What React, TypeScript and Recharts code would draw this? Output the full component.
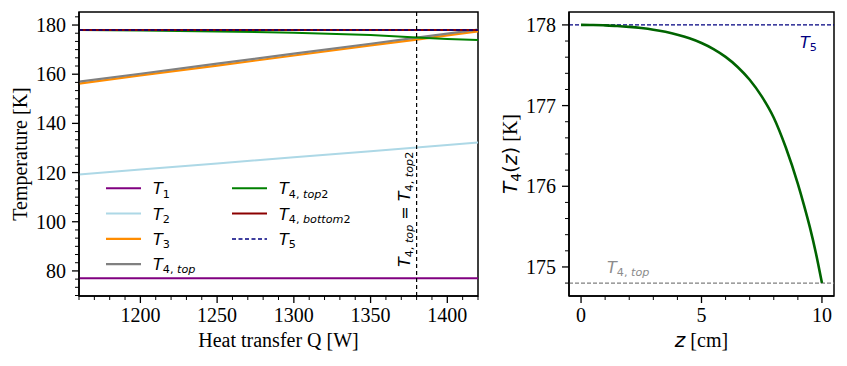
import React from 'react';
import {
  LineChart,
  Line,
  XAxis,
  YAxis,
  ReferenceLine,
  ReferenceArea,
  Legend
} from 'recharts';

const SERIF = '"Liberation Serif", "Times New Roman", serif';
const MATH = '"DejaVu Sans", sans-serif';

// ---- left panel: temperatures vs heat transfer ----
const qValues = [1160, 1200, 1250, 1300, 1350, 1380, 1400, 1420];
const t1Values = [77, 77, 77, 77, 77, 77, 77, 77];
const t2Values = [119.2, 121.2, 123.7, 126.2, 128.7, 130.2, 131.2, 132.2];
const t3Values = [156.2, 159.5, 163.5, 167.6, 171.7, 174.1, 175.8, 177.4];
const t4TopValues = [157.0, 160.2, 164.3, 168.4, 172.4, 174.9, 176.5, 178.1];
const t4Top2Values = [178.0, 177.8, 177.4, 176.9, 175.9, 174.9, 174.35, 173.9];
const t4Bottom2Values = [178, 178, 178, 178, 178, 178, 178, 178];
const t5Values = [178, 178, 178, 178, 178, 178, 178, 178];

const qMajorTicks = [1200, 1250, 1300, 1350, 1400];
const tempMajorTicks = [80, 100, 120, 140, 160, 180];
const qDomain: [number, number] = [1160, 1420];
const tempDomain: [number, number] = [69.8, 185.3];
const equalQ = 1380;

// ---- right panel: T4 along z ----
const zValues = [0, 0.5, 1, 1.5, 2, 2.5, 3, 3.5, 4, 4.5, 5, 5.5, 6, 6.5, 7, 7.5, 8, 8.5, 9, 9.25, 9.5, 9.75, 10];
const t4zValues = [
  178.0, 177.999, 177.994, 177.987, 177.976, 177.961, 177.941, 177.914, 177.879, 177.834,
  177.776, 177.701, 177.604, 177.479, 177.32, 177.114, 176.85, 176.48, 176.03, 175.77, 175.49, 175.17, 174.8
];
const zMajorTicks = [0, 5, 10];
const t4MajorTicks = [175, 176, 177, 178];
const zDomain: [number, number] = [-0.5, 10.5];
const t4Domain: [number, number] = [174.64, 178.16];
const t5Level = 178;
const t4TopLevel = 174.8;

const steps = (from: number, to: number, step: number) => {
  const out: number[] = [];
  for (let i = 0; from + i * step <= to + 1e-9; i++) out.push(+(from + i * step).toFixed(4));
  return out;
};

const qTicks = steps(1160, 1420, 10);
const tempTicks = steps(70, 185, 20 / 6);
const zTicks = steps(0, 10, 1);
const t4Ticks = steps(174.8, 178.1, 0.2);

const leftRows = qValues.map((q, i) => ({
  q,
  T1: t1Values[i],
  T2: t2Values[i],
  T3: t3Values[i],
  T4top: t4TopValues[i],
  T4top2: t4Top2Values[i],
  T4bottom2: t4Bottom2Values[i],
  T5: t5Values[i]
}));

const rightRows = zValues.map((z, i) => ({ z, t: t4zValues[i] }));

type Part = { t: string; i?: boolean; sub?: boolean; serif?: boolean };

const T = (...sub: Part[]): Part[] => [{ t: 'T', i: true }, ...sub.map((p) => ({ ...p, sub: true }))];

const labels: Record<string, Part[]> = {
  T1: T({ t: '1' }),
  T2: T({ t: '2' }),
  T3: T({ t: '3' }),
  T4top: T({ t: '4, ' }, { t: 'top', i: true }),
  T4top2: T({ t: '4, ' }, { t: 'top', i: true }, { t: '2' }),
  T4bottom2: T({ t: '4, ' }, { t: 'bottom', i: true }, { t: '2' }),
  T5: T({ t: '5' })
};

const series = [
  { key: 'T1', color: '#800080', width: 2 },
  { key: 'T2', color: '#add8e6', width: 2 },
  { key: 'T3', color: '#ff8c00', width: 2.2 },
  { key: 'T4top', color: '#808080', width: 2.2 },
  { key: 'T4top2', color: '#008000', width: 2 },
  { key: 'T4bottom2', color: '#8b0000', width: 2 },
  { key: 'T5', color: '#000080', width: 1.5, dash: '4 2.5' }
];

const MathText = ({ parts, size }: { parts: Part[]; size: number }) => {
  let shift = 0;
  return (
    <>
      {parts.map((p, k) => {
        const target = p.sub ? size * 0.2 : 0;
        const dy = target - shift;
        shift = target;
        const fs = p.sub ? size * 0.7 : size;
        return (
          <tspan
            key={k}
            dy={dy}
            style={{
              whiteSpace: 'pre',
              fontSize: fs,
              fontStyle: p.i ? 'italic' : 'normal',
              fontFamily: p.serif ? SERIF : MATH
            }}
          >
            {p.t}
          </tspan>
        );
      })}
    </>
  );
};

const serifStyle = { fontFamily: SERIF, fontSize: 20 };

const isMajor = (v: number, majors: number[]) => majors.some((m) => Math.abs(m - v) < 1e-6);

const xTick = (majors: number[]) => (props: any) => {
  const { x, y, payload } = props;
  const major = isMajor(payload.value, majors);
  return (
    <g>
      <line x1={x} y1={y} x2={x} y2={y + (major ? 7 : 4)} stroke="#000" strokeWidth={major ? 1.3 : 1} />
      {major && (
        <text x={x} y={y + 26} textAnchor="middle" fill="#000" style={serifStyle}>
          {Math.round(payload.value)}
        </text>
      )}
    </g>
  );
};

const yTick = (majors: number[]) => (props: any) => {
  const { x, y, payload } = props;
  const major = isMajor(payload.value, majors);
  return (
    <g>
      <line x1={x - (major ? 7 : 4)} y1={y} x2={x} y2={y} stroke="#000" strokeWidth={major ? 1.3 : 1} />
      {major && (
        <text x={x - 13} y={y + 7} textAnchor="end" fill="#000" style={serifStyle}>
          {Math.round(payload.value)}
        </text>
      )}
    </g>
  );
};

const renderLegend = () => (
  <svg width={300} height={105}>
    {series.map((s, i) => {
      const col = i < 4 ? 0 : 1;
      const row = i < 4 ? i : i - 4;
      const x0 = col === 0 ? 6 : 132;
      const cy = 14.3 + row * 25.3;
      return (
        <g key={s.key}>
          <line x1={x0} y1={cy} x2={x0 + 35} y2={cy} stroke={s.color} strokeWidth={s.width} strokeDasharray={s.dash} />
          <text x={x0 + 47} y={cy + 6} fill="#000">
            <MathText parts={labels[s.key]} size={16} />
          </text>
        </g>
      );
    })}
  </svg>
);

const LeftPanel = () => (
  <LineChart width={480} height={366} data={leftRows} margin={{ top: 12, right: 2, bottom: 0, left: 0 }}>
    <XAxis
      dataKey="q"
      type="number"
      domain={qDomain}
      allowDataOverflow
      ticks={qTicks}
      interval={0}
      height={70}
      tickSize={0}
      tickMargin={0}
      tickLine={false}
      tick={xTick(qMajorTicks)}
      axisLine={{ stroke: '#000', strokeWidth: 1.5 }}
      label={(p: any) => {
        const vb = p.viewBox || { x: 79, y: 296, width: 399 };
        return (
          <text x={vb.x + vb.width / 2} y={vb.y + 51} textAnchor="middle" fill="#000" style={serifStyle}>
            Heat transfer Q [W]
          </text>
        );
      }}
    />
    <YAxis
      type="number"
      domain={tempDomain}
      allowDataOverflow
      ticks={tempTicks}
      interval={0}
      width={79}
      tickSize={0}
      tickMargin={0}
      tickLine={false}
      tick={yTick(tempMajorTicks)}
      axisLine={{ stroke: '#000', strokeWidth: 1.5 }}
      label={(p: any) => {
        const vb = p.viewBox || { x: 0, y: 12, height: 284 };
        const cx = vb.x + 27;
        const cy = vb.y + vb.height / 2;
        return (
          <text x={cx} y={cy} transform={`rotate(-90 ${cx} ${cy})`} textAnchor="middle" fill="#000" style={serifStyle}>
            Temperature [K]
          </text>
        );
      }}
    />
    <ReferenceArea x1={qDomain[0]} x2={qDomain[1]} y1={tempDomain[0]} y2={tempDomain[1]} fill="none" stroke="#000" strokeWidth={1.5} />
    {series.map((s) => (
      <Line
        key={s.key}
        dataKey={s.key}
        name={s.key}
        type="linear"
        stroke={s.color}
        strokeWidth={s.width}
        strokeDasharray={s.dash}
        dot={false}
        activeDot={false}
        isAnimationActive={false}
      />
    ))}
    <ReferenceLine
      x={equalQ}
      stroke="#000"
      strokeWidth={1.2}
      strokeDasharray="4 3"
      label={(p: any) => {
        const vb = p.viewBox;
        const cx = vb.x - 7;
        const cy = vb.y + vb.height * 0.695;
        return (
          <text x={cx} y={cy} transform={`rotate(-90 ${cx} ${cy})`} textAnchor="middle" fill="#000">
            <MathText parts={[...labels.T4top, { t: ' = ' }, ...labels.T4top2]} size={16} />
          </text>
        );
      }}
    />
    <Legend
      layout="vertical"
      align="center"
      verticalAlign="middle"
      content={renderLegend}
      wrapperStyle={{ left: 100, top: 174, width: 300, height: 105 }}
    />
  </LineChart>
);

const RightPanel = () => (
  <LineChart width={367} height={366} data={rightRows} margin={{ top: 12, right: 13, bottom: 0, left: 0 }}>
    <XAxis
      dataKey="z"
      type="number"
      domain={zDomain}
      allowDataOverflow
      ticks={zTicks}
      interval={0}
      height={70}
      tickSize={0}
      tickMargin={0}
      tickLine={false}
      tick={xTick(zMajorTicks)}
      axisLine={{ stroke: '#000', strokeWidth: 1.5 }}
      label={(p: any) => {
        const vb = p.viewBox || { x: 89, y: 296, width: 265 };
        return (
          <text x={vb.x + vb.width / 2} y={vb.y + 51} textAnchor="middle" fill="#000">
            <MathText parts={[{ t: 'z', i: true }, { t: ' [cm]', serif: true }]} size={20} />
          </text>
        );
      }}
    />
    <YAxis
      type="number"
      domain={t4Domain}
      allowDataOverflow
      ticks={t4Ticks}
      interval={0}
      width={89}
      tickSize={0}
      tickMargin={0}
      tickLine={false}
      tick={yTick(t4MajorTicks)}
      axisLine={{ stroke: '#000', strokeWidth: 1.5 }}
      label={(p: any) => {
        const vb = p.viewBox || { x: 0, y: 12, height: 284 };
        const cx = vb.x + 37;
        const cy = vb.y + vb.height / 2;
        return (
          <text x={cx} y={cy} transform={`rotate(-90 ${cx} ${cy})`} textAnchor="middle" fill="#000">
            <MathText
              parts={[{ t: 'T', i: true }, { t: '4', sub: true }, { t: '(' }, { t: 'z', i: true }, { t: ')' }, { t: ' [K]', serif: true }]}
              size={20}
            />
          </text>
        );
      }}
    />
    <ReferenceArea x1={zDomain[0]} x2={zDomain[1]} y1={t4Domain[0]} y2={t4Domain[1]} fill="none" stroke="#000" strokeWidth={1.5} />
    <ReferenceLine
      y={t5Level}
      stroke="#000080"
      strokeWidth={1.2}
      strokeDasharray="4 2"
      label={(p: any) => {
        const vb = p.viewBox;
        return (
          <text x={vb.x + vb.width - 34} y={vb.y + 23} fill="#000080">
            <MathText parts={labels.T5} size={16} />
          </text>
        );
      }}
    />
    <ReferenceLine
      y={t4TopLevel}
      stroke="#808080"
      strokeWidth={1.2}
      strokeDasharray="4 2"
      label={(p: any) => {
        const vb = p.viewBox;
        return (
          <text x={vb.x + 38} y={vb.y - 10} fill="#8c8c8c">
            <MathText parts={labels.T4top} size={16} />
          </text>
        );
      }}
    />
    <Line
      dataKey="t"
      type="monotone"
      stroke="#006400"
      strokeWidth={2.6}
      dot={false}
      activeDot={false}
      isAnimationActive={false}
    />
  </LineChart>
);

export default function App() {
  return (
    <div style={{ position: 'absolute', left: 0, top: 0, width: 847, height: 366, background: '#fff' }}>
      <div style={{ position: 'absolute', left: 0, top: 0 }}>
        <LeftPanel />
      </div>
      <div style={{ position: 'absolute', left: 480, top: 0 }}>
        <RightPanel />
      </div>
    </div>
  );
}
